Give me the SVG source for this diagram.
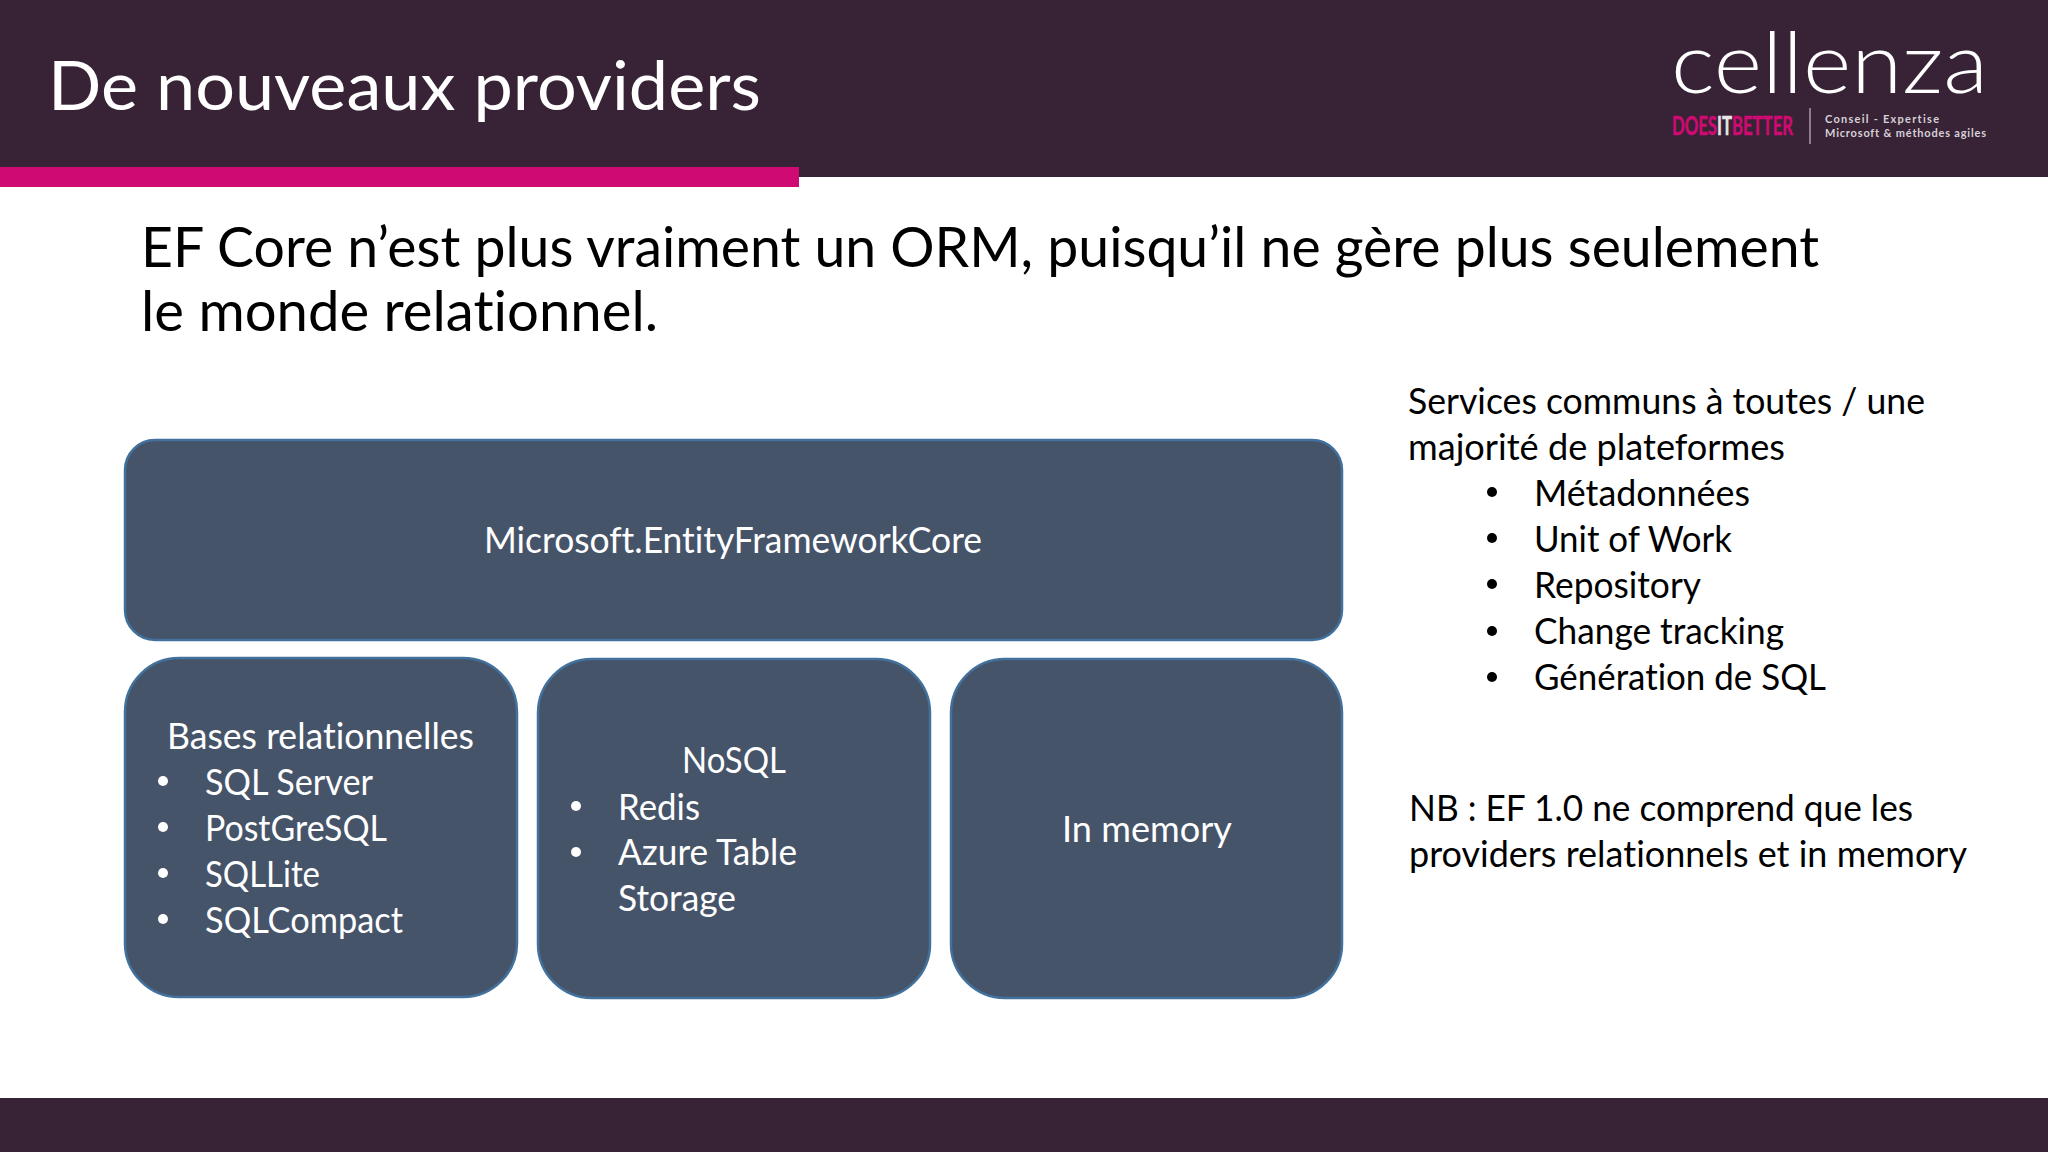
<svg xmlns="http://www.w3.org/2000/svg" width="2048" height="1152" viewBox="0 0 2048 1152">
<style>
text{font-family:"Lato","Open Sans","Liberation Sans",sans-serif;font-variant-ligatures:none}
.band{fill:#372335}
.box{fill:#46546a;stroke:#41719c;stroke-width:2.5}
.w{fill:#fff;font-size:36px}
.k{fill:#000;font-size:36px}
.h{fill:#000;font-size:56px}
.dot{fill:#fff}
.dk{fill:#000}
</style>
<rect width="2048" height="1152" fill="#fff"/>
<g id="header">
<rect class="band" width="2048" height="177"/>
<rect width="799" height="20" y="167" fill="#cf0a72"/>
<text x="48" y="110" fill="#fff" font-size="68" textLength="713" lengthAdjust="spacingAndGlyphs">De nouveaux providers</text>
</g>
<g id="logo">
<text x="1671" y="93" fill="#fff" font-size="84" font-weight="300" textLength="317" lengthAdjust="spacingAndGlyphs">cellenza</text>
<text x="1672" y="135" fill="#cf0a72" stroke="#cf0a72" stroke-width="0.5" font-size="27" font-weight="700" textLength="121" lengthAdjust="spacingAndGlyphs">DOES<tspan fill="#e8e4e8" stroke="#e8e4e8">IT</tspan>BETTER</text>
<rect x="1809" y="108" width="2" height="36" fill="#8d7c8b"/>
<text x="1825" y="123" fill="#d8d0d8" font-size="11" font-weight="700" textLength="114">Conseil - Expertise</text>
<text x="1825" y="137" fill="#d8d0d8" font-size="11" font-weight="700" textLength="161">Microsoft &amp; méthodes agiles</text>
</g>
<g id="subtitle">
<text class="h" x="141" y="267" textLength="1678" lengthAdjust="spacingAndGlyphs">EF Core n’est plus vraiment un ORM, puisqu’il ne gère plus seulement</text>
<text class="h" x="141" y="331" textLength="517" lengthAdjust="spacingAndGlyphs">le monde relationnel.</text>
</g>
<g id="core">
<rect class="box" x="125" y="440" width="1217" height="200" rx="30"/>
<text class="w" x="484" y="553" textLength="498" lengthAdjust="spacingAndGlyphs">Microsoft.EntityFrameworkCore</text>
</g>
<g id="relational">
<rect class="box" x="125" y="658" width="392" height="339" rx="54"/>
<text class="w" x="167" y="749" textLength="307" lengthAdjust="spacingAndGlyphs">Bases relationnelles</text>
<circle class="dot" cx="163" cy="781" r="5"/><text class="w" x="205" y="795" textLength="168" lengthAdjust="spacingAndGlyphs">SQL Server</text>
<circle class="dot" cx="163" cy="827" r="5"/><text class="w" x="205" y="841" textLength="182" lengthAdjust="spacingAndGlyphs">PostGreSQL</text>
<circle class="dot" cx="163" cy="873" r="5"/><text class="w" x="205" y="887" textLength="115" lengthAdjust="spacingAndGlyphs">SQLLite</text>
<circle class="dot" cx="163" cy="919" r="5"/><text class="w" x="205" y="933" textLength="198" lengthAdjust="spacingAndGlyphs">SQLCompact</text>
</g>
<g id="nosql">
<rect class="box" x="538" y="659" width="392" height="339" rx="54"/>
<text class="w" x="682" y="773" textLength="104" lengthAdjust="spacingAndGlyphs">NoSQL</text>
<circle class="dot" cx="576" cy="806" r="5"/><text class="w" x="618" y="820" textLength="82" lengthAdjust="spacingAndGlyphs">Redis</text>
<circle class="dot" cx="576" cy="852" r="5"/><text class="w" x="618" y="865" textLength="179" lengthAdjust="spacingAndGlyphs">Azure Table</text>
<text class="w" x="618" y="911" textLength="118" lengthAdjust="spacingAndGlyphs">Storage</text>
</g>
<g id="memory">
<rect class="box" x="951" y="659" width="391" height="339" rx="54"/>
<text class="w" x="1062" y="842" textLength="170" lengthAdjust="spacingAndGlyphs">In memory</text>
</g>
<g id="services">
<text class="k" x="1408" y="414" textLength="517" lengthAdjust="spacingAndGlyphs">Services communs à toutes / une</text>
<text class="k" x="1408" y="460" textLength="377" lengthAdjust="spacingAndGlyphs">majorité de plateformes</text>
<circle class="dk" cx="1492" cy="492" r="5"/><text class="k" x="1534" y="506" textLength="216" lengthAdjust="spacingAndGlyphs">Métadonnées</text>
<circle class="dk" cx="1492" cy="538" r="5"/><text class="k" x="1534" y="552" textLength="198" lengthAdjust="spacingAndGlyphs">Unit of Work</text>
<circle class="dk" cx="1492" cy="584" r="5"/><text class="k" x="1534" y="598" textLength="167" lengthAdjust="spacingAndGlyphs">Repository</text>
<circle class="dk" cx="1492" cy="631" r="5"/><text class="k" x="1534" y="644" textLength="250" lengthAdjust="spacingAndGlyphs">Change tracking</text>
<circle class="dk" cx="1492" cy="677" r="5"/><text class="k" x="1534" y="690" textLength="292" lengthAdjust="spacingAndGlyphs">Génération de SQL</text>
</g>
<g id="note">
<text class="k" x="1409" y="821" textLength="504" lengthAdjust="spacingAndGlyphs">NB : EF 1.0 ne comprend que les</text>
<text class="k" x="1409" y="867" textLength="558" lengthAdjust="spacingAndGlyphs">providers relationnels et in memory</text>
</g>
<g id="footer"><rect class="band" y="1098" width="2048" height="54"/></g>
<g id="connectors"></g>
</svg>
